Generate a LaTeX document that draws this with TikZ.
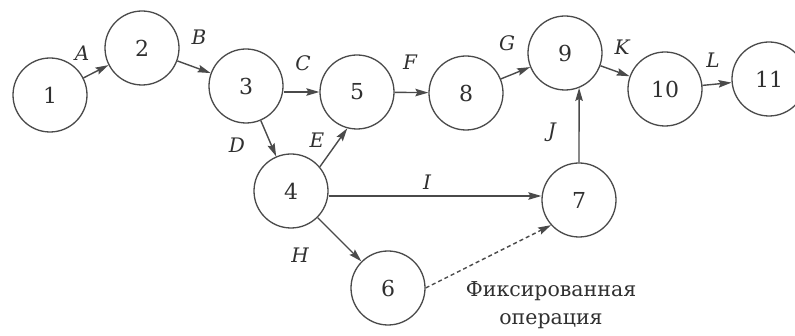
\documentclass[tikz,border=0pt]{standalone}
\usepackage{fontspec}
\setmainfont{DejaVu Serif}
\usetikzlibrary{arrows.meta}
\definecolor{linec}{HTML}{4A4A4A}
\definecolor{txt}{HTML}{303030}
\begin{document}
\begin{tikzpicture}[x=1pt,y=-1pt,
  ev/.style={circle,draw=linec,line width=1.3pt,minimum size=74pt,inner sep=0pt,text=txt,font=\fontsize{22}{24}\selectfont},
  lab/.style={text=txt,font=\fontsize{20}{22}\selectfont\itshape,inner sep=0pt},
  arr/.style={draw=linec,line width=1.4pt,-{Stealth[length=13pt,width=7.5pt,inset=2pt]}},
  dash arr/.style={arr,dash pattern=on 4pt off 3pt}
]
\fill[white] (0,0) rectangle (795,336);
\useasboundingbox (0,0) rectangle (795,336);
% events
\node[ev] (1) at (50,95) {1};
\node[ev] (2) at (142,48) {2};
\node[ev] (3) at (246,86) {3};
\node[ev] (4) at (291,191) {4};
\node[ev] (5) at (357,92) {5};
\node[ev] (6) at (388,288) {6};
\node[ev] (7) at (579,200) {7};
\node[ev] (8) at (466,93) {8};
\node[ev] (9) at (565,53) {9};
\node[ev] (10) at (665,89) {10};
\node[ev] (11) at (769,79) {11};
% activities
\draw[arr] (1) -- (2);
\draw[arr] (2) -- (3);
\draw[arr] (3.east |- 5.west) -- (5.west);
\draw[arr] (3) -- (4);
\draw[arr] (4.40) -- (5.255);
\draw[arr] (5) -- (8);
\draw[arr] (8) -- (9);
\draw[arr] (9) -- (10);
\draw[arr] (10) -- (11);
\draw[arr] ([yshift=-5pt]4.east) -- ([yshift=4pt]7.west);
\draw[arr] (4) -- (6);
\draw[dash arr] (6.east) -- (7.222);
\draw[arr] (7.north) -- (9.-68);
% labels
\node[lab] (lA) at (82,53) {A};
\node[lab] (lB) at (199,37) {B};
\node[lab] (lC) at (303,63) {C};
\node[lab] (lD) at (237,145) {D};
\node[lab] (lE) at (317,140) {E};
\node[lab] (lF) at (410,62) {F};
\node[lab] (lG) at (507,43) {G};
\node[lab] (lH) at (300,255) {H};
\node[lab] (lI) at (427,182) {I};
\node[lab] (lJ) at (552,132) {J};
\node[lab] (lK) at (622,47) {K};
\node[lab] (lL) at (713,60) {L};
\node[text=txt,font=\fontsize{20.5}{28}\selectfont,align=center,inner sep=0pt] (note) at (551,305) {Фиксированная\\операция};
\end{tikzpicture}
\end{document}
